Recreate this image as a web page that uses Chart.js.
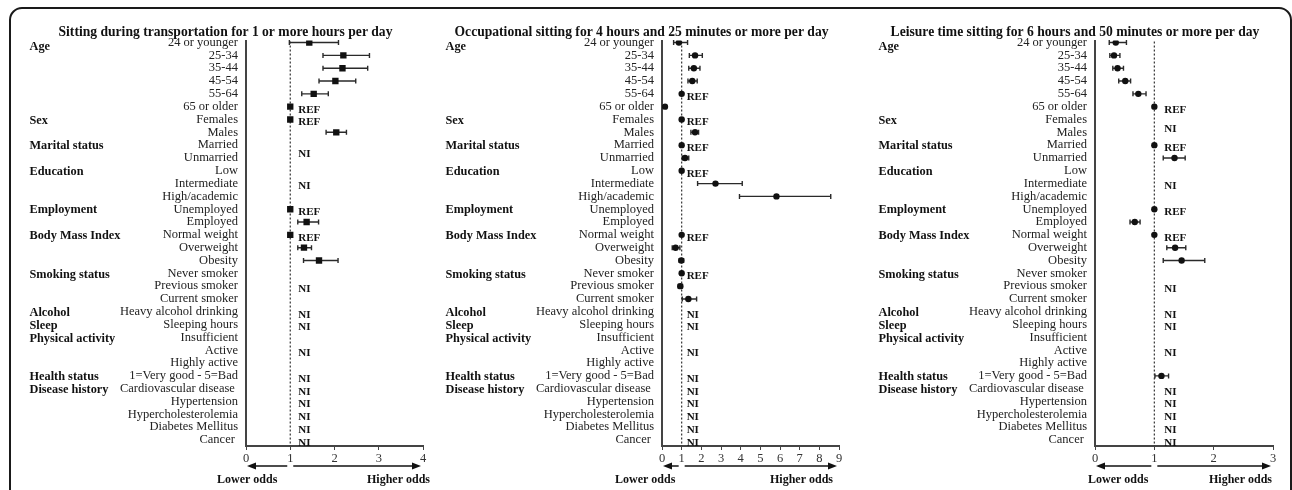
<!DOCTYPE html>
<html>
<head>
<meta charset="utf-8">
<script src="https://cdn.jsdelivr.net/npm/chart.js@4.4.0/dist/chart.umd.min.js"></script>
<style>
  body { margin: 0; background: #fff; width: 1292px; height: 490px; overflow: hidden; position: relative; }
  .frame { position: absolute; left: 9px; top: 7px; width: 1283px; height: 530px; box-sizing: border-box; border: 2px solid #1a1a1a; border-radius: 13px; }
  .panel { position: absolute; top: 0; height: 490px; }
</style>
</head>
<body>
<div class="frame"></div>
<div class="panel" style="left:28px;width:404px"><canvas id="c1" width="404" height="490"></canvas></div>
<div class="panel" style="left:444px;width:404px"><canvas id="c2" width="404" height="490"></canvas></div>
<div class="panel" style="left:877px;width:410px"><canvas id="c3" width="410" height="490"></canvas></div>
<script>
const SERIF = '"Liberation Serif", "Times New Roman", serif';
const N = null;

// rows shared by all three panels
const rowLabels = ['24 or younger', '25-34', '35-44', '45-54', '55-64', '65 or older',
  'Females', 'Males', 'Married', 'Unmarried', 'Low', 'Intermediate', 'High/academic',
  'Unemployed', 'Employed', 'Normal weight', 'Overweight', 'Obesity',
  'Never smoker', 'Previous smoker', 'Current smoker', 'Heavy alcohol drinking',
  'Sleeping hours', 'Insufficient', 'Active', 'Highly active', '1=Very good - 5=Bad',
  'Cardiovascular disease ', 'Hypertension', 'Hypercholesterolemia', 'Diabetes Mellitus', 'Cancer '];
const groupNames = ['Age', 'Sex', 'Marital status', 'Education', 'Employment', 'Body Mass Index',
  'Smoking status', 'Alcohol', 'Sleep', 'Physical activity', 'Health status', 'Disease history'];
const groupRows = [0.25, 6, 8, 10, 13, 15, 18, 21, 22, 23, 26, 27];

// transportation
const transOR = [1.43, 2.20, 2.18, 2.02, 1.53, 1, 1, 2.04, N, N, N, N, N, 1, 1.37, 1, 1.31, 1.65, N, N, N, N, N, N, N, N, N, N, N, N, N, N];
const transLo = [0.98, 1.74, 1.74, 1.65, 1.26, N, N, 1.81, N, N, N, N, N, N, 1.17, N, 1.17, 1.30, N, N, N, N, N, N, N, N, N, N, N, N, N, N];
const transHi = [2.09, 2.79, 2.75, 2.48, 1.86, N, N, 2.27, N, N, N, N, N, N, 1.64, N, 1.48, 2.08, N, N, N, N, N, N, N, N, N, N, N, N, N, N];
const transRef = [5, 6, 13, 15];
const transNI = [8.5, 11, 19, 21, 22, 24, 26, 27, 28, 29, 30, 31];

// occupational
const occOR = [0.86, 1.68, 1.62, 1.54, 1, 0.15, 1, 1.68, 1, 1.17, 1, 2.72, 5.82, N, N, 1, 0.69, 0.98, 1, 0.93, 1.34, N, N, N, N, N, N, N, N, N, N, N];
const occLo = [0.59, 1.39, 1.36, 1.32, N, N, N, 1.47, N, 1.03, N, 1.81, 3.94, N, N, N, 0.52, 0.88, N, 0.83, 1.03, N, N, N, N, N, N, N, N, N, N, N];
const occHi = [1.30, 2.05, 1.93, 1.79, N, N, N, 1.86, N, 1.36, N, 4.08, 8.58, N, N, N, 0.91, 1.10, N, 1.04, 1.76, N, N, N, N, N, N, N, N, N, N, N];
const occRef = [4, 6, 8, 10, 15, 18];
const occNI = [21, 22, 24, 26, 27, 28, 29, 30, 31];

// leisure time
const leisOR = [0.35, 0.32, 0.38, 0.51, 0.73, 1, N, N, 1, 1.34, N, N, N, 1, 0.67, 1, 1.35, 1.46, N, N, N, N, N, N, N, N, 1.12, N, N, N, N, N];
const leisLo = [0.24, 0.25, 0.30, 0.40, 0.64, N, N, N, N, 1.15, N, N, N, N, 0.59, N, 1.21, 1.15, N, N, N, N, N, N, N, N, 1.01, N, N, N, N, N];
const leisHi = [0.53, 0.42, 0.48, 0.60, 0.86, N, N, N, N, 1.52, N, N, N, N, 0.76, N, 1.53, 1.85, N, N, N, N, N, N, N, N, 1.24, N, N, N, N, N];
const leisRef = [5, 8, 13, 15];
const leisNI = [6.5, 11, 19, 21, 22, 24, 27, 28, 29, 30, 31];

function arrow(ctx, from, to, y) {
  const dir = to > from ? 1 : -1;
  ctx.beginPath();
  ctx.moveTo(from, y);
  ctx.lineTo(to - dir * 6, y);
  ctx.stroke();
  ctx.beginPath();
  ctx.moveTo(to, y);
  ctx.lineTo(to - dir * 9, y - 3.5);
  ctx.lineTo(to - dir * 9, y + 3.5);
  ctx.closePath();
  ctx.fill();
}

function makeChart(id, cfg) {
  const extras = {
    id: 'forest_' + id,
    beforeDatasetsDraw(chart) {
      const ctx = chart.ctx, xs = chart.scales.x, ys = chart.scales.y, area = chart.chartArea;
      ctx.save();
      // dotted line at OR = 1
      const x1 = xs.getPixelForValue(1);
      ctx.strokeStyle = '#333';
      ctx.lineWidth = 1.2;
      ctx.setLineDash([2, 2]);
      ctx.beginPath();
      ctx.moveTo(x1, area.top + 1);
      ctx.lineTo(x1, area.bottom);
      ctx.stroke();
      ctx.setLineDash([]);
      // confidence intervals
      ctx.lineWidth = 1.4;
      ctx.strokeStyle = '#2a2a2a';
      cfg.lo.forEach((lo, i) => {
        const hi = cfg.hi[i];
        if (lo == null || hi == null) return;
        const a = xs.getPixelForValue(lo), b = xs.getPixelForValue(hi), y = ys.getPixelForValue(i);
        ctx.beginPath();
        ctx.moveTo(a, y); ctx.lineTo(b, y);
        ctx.moveTo(a, y - 2.5); ctx.lineTo(a, y + 2.5);
        ctx.moveTo(b, y - 2.5); ctx.lineTo(b, y + 2.5);
        ctx.stroke();
      });
      ctx.restore();
    },
    afterDraw(chart) {
      const ctx = chart.ctx, xs = chart.scales.x, ys = chart.scales.y, area = chart.chartArea;
      ctx.save();
      ctx.fillStyle = '#111';
      ctx.textBaseline = 'middle';
      // group names
      ctx.font = 'bold 12.3px ' + SERIF;
      ctx.textAlign = 'left';
      groupNames.forEach((g, k) => {
        ctx.fillText(g, 1.5, ys.getPixelForValue(groupRows[k]) + 1);
      });
      // REF / NI labels
      ctx.font = 'bold 11px ' + SERIF;
      const lx = xs.getPixelForValue(1) + cfg.labelGap;
      cfg.refRows.forEach(r => ctx.fillText('REF', lx, ys.getPixelForValue(r) + 3));
      cfg.niRows.forEach(r => ctx.fillText('NI', lx, ys.getPixelForValue(r) + 3));
      // arrows
      ctx.strokeStyle = '#111';
      ctx.lineWidth = 1.5;
      const p0 = xs.getPixelForValue(0), p1 = xs.getPixelForValue(1), pm = xs.getPixelForValue(cfg.xMax);
      arrow(ctx, p1 - 3, p0 + 1, 466);
      arrow(ctx, p1 + 3, pm - 2, 466);
      ctx.font = 'bold 12px ' + SERIF;
      ctx.textAlign = 'left';
      ctx.fillText('Lower odds', area.left + cfg.lowerDx, 480);
      ctx.textAlign = 'right';
      ctx.fillText('Higher odds', area.right + cfg.higherDx, 480);
      ctx.restore();
    }
  };

  const points = [];
  cfg.or.forEach((v, i) => { if (v != null) points.push({ x: v, y: i }); });

  return new Chart(document.getElementById(id), {
    type: 'scatter',
    data: {
      datasets: [{
        data: points,
        backgroundColor: '#111',
        borderColor: '#111',
        borderWidth: 0,
        pointStyle: cfg.pointStyle,
        pointRadius: cfg.radius
      }]
    },
    options: {
      responsive: false,
      animation: false,
      layout: { padding: { left: 0, right: cfg.padRight, top: 0, bottom: 0 } },
      plugins: {
        legend: { display: false },
        tooltip: { enabled: false },
        title: {
          display: true,
          text: cfg.title,
          color: '#111',
          font: { family: SERIF, size: 13.6, weight: 'bold' },
          padding: { top: 24, bottom: 0.2 }
        }
      },
      scales: {
        x: {
          type: 'linear',
          min: 0,
          max: cfg.xMax,
          afterFit: s => { s.height = 44; },
          border: { display: true, color: '#444', width: 2 },
          grid: { drawOnChartArea: false, drawTicks: true, tickLength: 4, color: '#444' },
          ticks: { stepSize: 1, padding: 1, color: '#333', font: { family: SERIF, size: 12.5 } }
        },
        y: {
          type: 'linear',
          reverse: true,
          min: -0.16,
          max: 31.47,
          afterFit: s => { s.width = 218; },
          afterBuildTicks: s => { s.ticks = rowLabels.map((_, i) => ({ value: i })); },
          border: { display: true, color: '#444', width: 2 },
          grid: { display: false, drawTicks: false },
          ticks: {
            autoSkip: false,
            padding: 8,
            color: '#222',
            font: { family: SERIF, size: 12.5 },
            callback: v => rowLabels[v]
          }
        }
      }
    },
    plugins: [extras]
  });
}

makeChart('c1', {
  title: 'Sitting during transportation for 1 or more hours per day',
  or: transOR, lo: transLo, hi: transHi, refRows: transRef, niRows: transNI,
  xMax: 4, pointStyle: 'rect', radius: 4.5, labelGap: 8, lowerDx: -29, higherDx: 7, padRight: 9
});
makeChart('c2', {
  title: 'Occupational sitting for 4 hours and 25 minutes or more per day',
  or: occOR, lo: occLo, hi: occHi, refRows: occRef, niRows: occNI,
  xMax: 9, pointStyle: 'circle', radius: 3.2, labelGap: 5, lowerDx: -47, higherDx: -6, padRight: 9
});
makeChart('c3', {
  title: 'Leisure time sitting for 6 hours and 50 minutes or more per day',
  or: leisOR, lo: leisLo, hi: leisHi, refRows: leisRef, niRows: leisNI,
  xMax: 3, pointStyle: 'circle', radius: 3.2, labelGap: 10, lowerDx: -7, higherDx: -1, padRight: 14
});
</script>
</body>
</html>
